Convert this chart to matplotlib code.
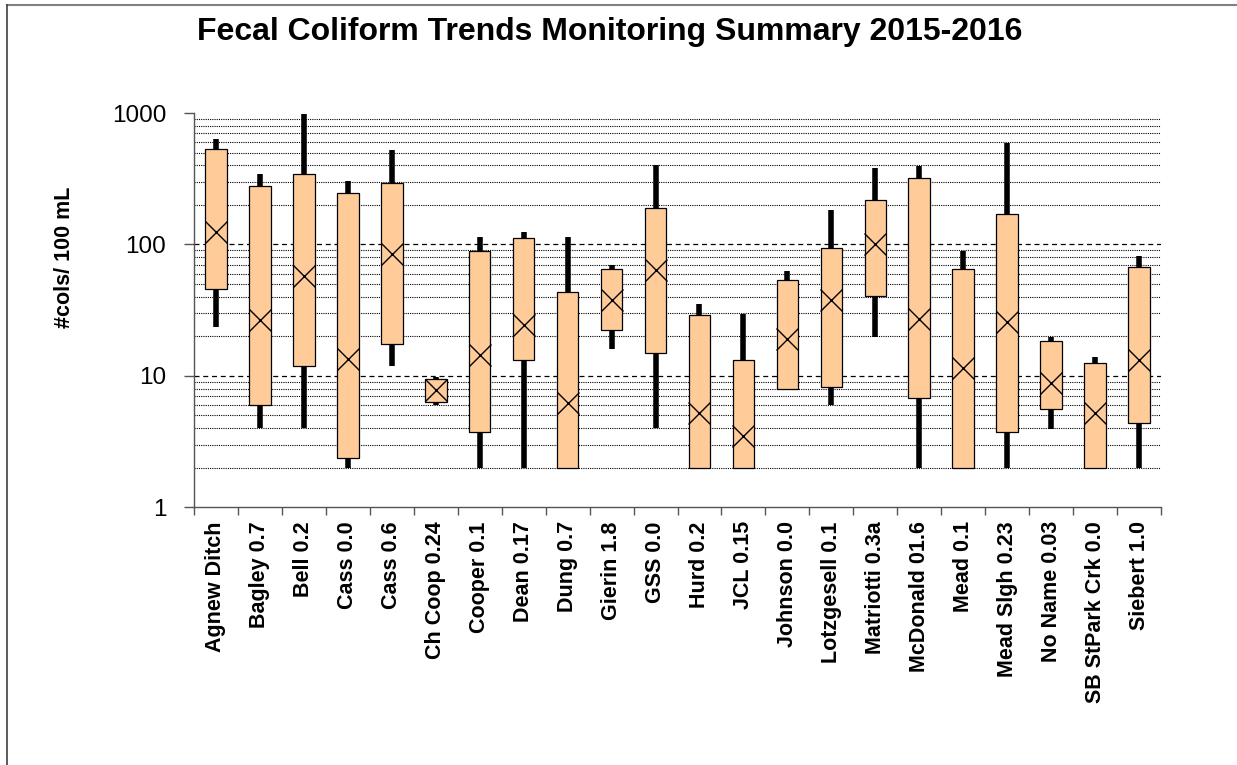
import numpy as np
import matplotlib
matplotlib.use("Agg")
import matplotlib.pyplot as plt
from matplotlib.lines import Line2D

plt.rcParams['font.family'] = ['Liberation Sans', 'DejaVu Sans']

# Sites and their summary values (#cols/100 mL)
sites = ["Agnew Ditch", "Bagley 0.7", "Bell 0.2", "Cass 0.0", "Cass 0.6", "Ch Coop 0.24",
         "Cooper 0.1", "Dean 0.17", "Dung 0.7", "Gierin 1.8", "GSS 0.0", "Hurd 0.2",
         "JCL 0.15", "Johnson 0.0", "Lotzgesell 0.1", "Matriotti 0.3a", "McDonald 01.6",
         "Mead 0.1", "Mead Slgh 0.23", "No Name 0.03", "SB StPark Crk 0.0", "Siebert 1.0"]
high = [629, 343, 986, 305, 519, 9.8, 113, 124, 113, 69.4, 399, 35.5,
        29.8, 63.2, 182, 379, 394, 89, 590, 19.9, 13.8, 81.2]
box_top = [535, 278, 345, 248, 291, 9.5, 89.7, 112, 43.5, 65, 188, 28.9,
           13.1, 53.7, 93.9, 219, 320, 65.5, 170, 18.3, 12.6, 67.8]
mean = [124, 26.5, 57.5, 13.4, 85, 7.8, 14.5, 24.3, 6.2, 37.6, 64.4, 5.2,
        3.48, 19.2, 38, 100, 27.3, 11.4, 25.7, 8.85, 5.2, 13.2]
box_bot = [45.6, 6.0, 11.9, 2.38, 17.4, 6.3, 3.75, 13.2, 2, 22.2, 14.9, 2,
           2, 7.9, 8.16, 40.5, 6.73, 2, 3.75, 5.56, 2, 4.35]
low = [23.4, 4.0, 4.0, 2, 11.9, 6.0, 2, 2, 2, 16.0, 4.0, 2,
       2, 7.9, 5.96, 19.9, 2, 2, 2, 3.96, 2, 2]

fig = plt.figure(figsize=(12.37, 7.65), dpi=100)
ax = fig.add_axes([194/1237, 1 - 507.3/765, (1161 - 194)/1237, (507.3 - 113)/765])

x = np.arange(len(sites))
box_w = 0.49

# gridlines
minor_vals = [m * d for d in (1, 10, 100) for m in range(2, 10)]
for v in minor_vals:
    ax.axhline(v, color='black', lw=0.8, ls=(0, (1, 1)), zorder=1)
for v in (10, 100):
    ax.axhline(v, color='black', lw=0.9, ls=(0, (4, 3)), zorder=1)

# whiskers
ax.vlines(x, low, high, color='black', lw=4, zorder=2)
# boxes
heights = np.array(box_top) - np.array(box_bot)
ax.bar(x, heights, bottom=box_bot, width=box_w, color='#FFCC99', edgecolor='black',
       linewidth=0.9, zorder=3)
# mean markers
ax.plot(x, mean, 'x', color='black', markersize=15.5, markeredgewidth=1.0, zorder=4)

ax.set_yscale('log')
ax.set_ylim(1, 1000)
ax.set_xlim(-0.5, len(sites) - 0.5)
ax.set_yticks([1, 10, 100, 1000])
ax.set_yticklabels(['1', '10', '100', '1000'], fontsize=17.5)
ax.yaxis.set_minor_locator(matplotlib.ticker.NullLocator())
ax.tick_params(axis='y', direction='out', length=7, width=1, color='#555555', pad=13)

ax.set_xticks(x)
ax.set_xticklabels(sites, rotation=90, fontsize=15.5, fontweight='bold')
ax.tick_params(axis='x', which='major', length=0, pad=10)
ax.set_xticks(np.arange(-0.5, len(sites)), minor=True)
ax.tick_params(axis='x', which='minor', direction='out', length=6, width=1, color='#555555')

for s in ('top', 'right'):
    ax.spines[s].set_visible(False)
for s in ('left', 'bottom'):
    ax.spines[s].set_color('#555555')
    ax.spines[s].set_linewidth(1)

fig.text(65/1237, 1 - 257/765, '#cols/ 100 mL', rotation=90, ha='center', va='center',
         fontsize=15.5, fontweight='bold')

fig.text(610/1237, 1 - 32/765, 'Fecal Coliform Trends Monitoring Summary 2015-2016',
         ha='center', va='center', fontsize=23, fontweight='bold')

# chart area border (top and left edges)
fig.add_artist(Line2D([7/1237, 1], [1 - 5/765, 1 - 5/765], color='#808080', lw=1.5))
fig.add_artist(Line2D([7/1237, 7/1237], [0, 1 - 5/765], color='#404040', lw=1.2))

fig.savefig('out.png', dpi=100)
